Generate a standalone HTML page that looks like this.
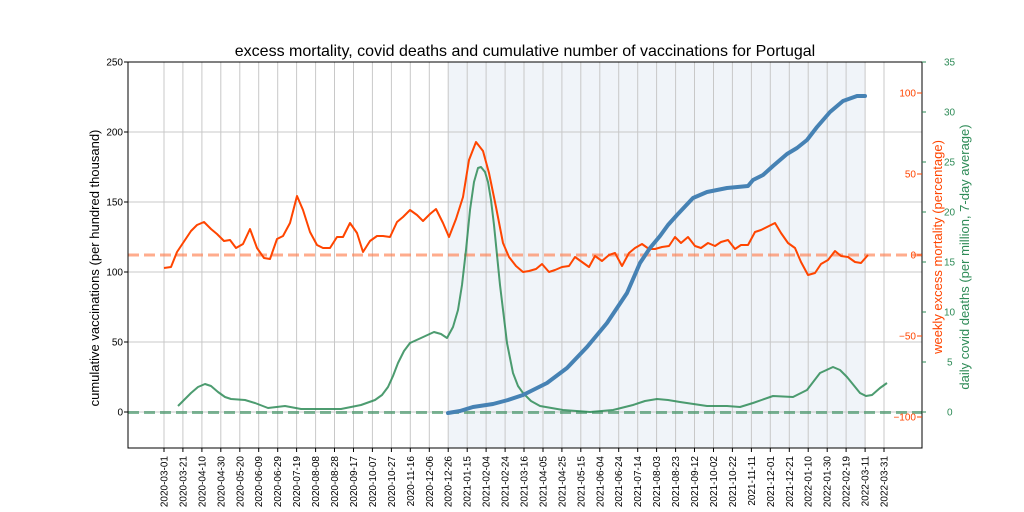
<!DOCTYPE html>
<html><head><meta charset="utf-8"><style>
html,body{margin:0;padding:0;background:#fff;}
svg{display:block;font-family:"Liberation Sans","DejaVu Sans",sans-serif;}
</style></head><body>
<svg width="1024" height="512" viewBox="0 0 1024 512" xmlns="http://www.w3.org/2000/svg">
<rect width="1024" height="512" fill="#fff"/>
<rect x="448.2" y="62" width="416.9" height="386" fill="#f0f4f9"/>
<g stroke="#c8c8c8" stroke-width="1">
<line x1="128" x2="922" y1="132" y2="132"/><line x1="128" x2="922" y1="202" y2="202"/><line x1="128" x2="922" y1="272" y2="272"/><line x1="128" x2="922" y1="342" y2="342"/><line x1="128" x2="922" y1="412" y2="412"/>
<line x1="164" x2="164" y1="62" y2="448"/><line x1="182.9" x2="182.9" y1="62" y2="448"/><line x1="201.9" x2="201.9" y1="62" y2="448"/><line x1="220.8" x2="220.8" y1="62" y2="448"/><line x1="239.8" x2="239.8" y1="62" y2="448"/><line x1="258.7" x2="258.7" y1="62" y2="448"/><line x1="277.7" x2="277.7" y1="62" y2="448"/><line x1="296.6" x2="296.6" y1="62" y2="448"/><line x1="315.6" x2="315.6" y1="62" y2="448"/><line x1="334.5" x2="334.5" y1="62" y2="448"/><line x1="353.5" x2="353.5" y1="62" y2="448"/><line x1="372.4" x2="372.4" y1="62" y2="448"/><line x1="391.4" x2="391.4" y1="62" y2="448"/><line x1="410.3" x2="410.3" y1="62" y2="448"/><line x1="429.3" x2="429.3" y1="62" y2="448"/><line x1="448.2" x2="448.2" y1="62" y2="448"/><line x1="467.2" x2="467.2" y1="62" y2="448"/><line x1="486.1" x2="486.1" y1="62" y2="448"/><line x1="505.1" x2="505.1" y1="62" y2="448"/><line x1="524" x2="524" y1="62" y2="448"/><line x1="543" x2="543" y1="62" y2="448"/><line x1="561.9" x2="561.9" y1="62" y2="448"/><line x1="580.8" x2="580.8" y1="62" y2="448"/><line x1="599.8" x2="599.8" y1="62" y2="448"/><line x1="618.7" x2="618.7" y1="62" y2="448"/><line x1="637.7" x2="637.7" y1="62" y2="448"/><line x1="656.6" x2="656.6" y1="62" y2="448"/><line x1="675.6" x2="675.6" y1="62" y2="448"/><line x1="694.5" x2="694.5" y1="62" y2="448"/><line x1="713.5" x2="713.5" y1="62" y2="448"/><line x1="732.4" x2="732.4" y1="62" y2="448"/><line x1="751.4" x2="751.4" y1="62" y2="448"/><line x1="770.3" x2="770.3" y1="62" y2="448"/><line x1="789.3" x2="789.3" y1="62" y2="448"/><line x1="808.2" x2="808.2" y1="62" y2="448"/><line x1="827.2" x2="827.2" y1="62" y2="448"/><line x1="846.1" x2="846.1" y1="62" y2="448"/><line x1="865.1" x2="865.1" y1="62" y2="448"/><line x1="884" x2="884" y1="62" y2="448"/>
</g>
<line x1="128" x2="922" y1="255" y2="255" stroke="#ff7f50" stroke-opacity="0.65" stroke-width="3" stroke-dasharray="11,5"/>
<line x1="128" x2="922" y1="412.5" y2="412.5" stroke="#2e8b57" stroke-opacity="0.6" stroke-width="3" stroke-dasharray="11,5"/>
<polyline fill="none" stroke="#ff4500" stroke-width="2" stroke-linejoin="round" points="164,268 171,267 177,252 191,231 197,225 204,222 211,229 217,234 224,241 230,240 236,248 243,244 250,229 257,248 264,258 270,259 277,239 283,236 290,223 297,196 303,210 310,232 317,245 323,248 330,248 337,237 343,237 350,223 357,233 363,252 370,241 377,236 383,236 390,237 397,222 403,217 410,210 417,215 423,221 430,214 436,209 443,223 449,237 456,219 463,197 469,160 476,142 483,151 489,173 496,207 503,243 509,257 516,266 523,272 529,271 536,269 542,264 549,272 555,270 562,267 569,266 575,257 582,262 589,267 595,256 602,261 609,255 615,253 622,266 629,253 635,248 642,244 649,249 655,249 662,247 669,246 675,237 681,243 688,237 695,246 701,248 708,243 715,246 721,242 728,240 735,249 741,245 748,245 755,232 761,230 775,223 781,233 788,243 795,248 801,262 808,275 815,273 821,264 828,260 835,251 841,256 848,257 855,262 861,263 868,255"/>
<polyline fill="none" stroke="#2e8b57" stroke-opacity="0.85" stroke-width="2" stroke-linejoin="round" points="178,406 184,400 191,393 198,387 205,384 211,386 218,392 225,397 231,399 245,400 255,403 268,408 285,406 301,409 318,409 341,409 361,405 375,400 382,395 388,387 393,376 398,363 404,351 410,343 421,338 434,332 441,334 447,338 453,327 458,310 462,285 466,250 470,210 474,182 478,168 481,167 485,172 488,182 491,200 494,225 497,255 500,285 504,318 507,343 513,373 518,386 523,393 531,401 540,406 563,410 590,412 613,410 633,405 645,401 657,399 668,400 680,402 707,406 727,406 740,407 753,403 773,396 793,397 807,390 820,373 833,367 840,370 847,377 860,393 866,396 872,395 880,388 887,383"/>
<polyline fill="none" stroke="#4682b4" stroke-width="4" stroke-linejoin="round" stroke-linecap="round" points="448,413 460,411 473,407 493,404 508,400 523,395 547,383 567,368 587,347 607,323 627,293 640,263 650,248 660,236 668,225 677,215 693,198 707,192 727,188 748,186 753,180 763,175 773,166 787,154 797,148 807,140 817,127 830,112 843,101 857,96 865,96"/>
<rect x="128" y="62" width="794" height="386" fill="none" stroke="#000" stroke-width="1"/>
<g font-size="10" fill="#000" text-anchor="end">
<text x="123" y="65.5">250</text><text x="123" y="135.5">200</text><text x="123" y="205.5">150</text><text x="123" y="275.5">100</text><text x="123" y="345.5">50</text><text x="123" y="415.5">0</text>
</g>
<g stroke="#000"><line x1="124" x2="128" y1="62" y2="62"/><line x1="124" x2="128" y1="132" y2="132"/><line x1="124" x2="128" y1="202" y2="202"/><line x1="124" x2="128" y1="272" y2="272"/><line x1="124" x2="128" y1="342" y2="342"/><line x1="124" x2="128" y1="412" y2="412"/></g>
<g stroke="#ff4500"><line x1="917" x2="922" y1="93" y2="93"/><line x1="917" x2="922" y1="174" y2="174"/><line x1="917" x2="922" y1="255" y2="255"/><line x1="917" x2="922" y1="336" y2="336"/><line x1="917" x2="922" y1="417" y2="417"/></g>
<g font-size="10" fill="#ff4500" text-anchor="end">
<text x="916" y="96.5">100</text><text x="916" y="177.5">50</text><text x="916" y="258.5">0</text><text x="916" y="339.5">−50</text><text x="916" y="420.5">−100</text>
</g>
<g stroke="#2e8b57"><line x1="922" x2="926" y1="62" y2="62"/><line x1="922" x2="926" y1="112" y2="112"/><line x1="922" x2="926" y1="162" y2="162"/><line x1="922" x2="926" y1="212" y2="212"/><line x1="922" x2="926" y1="262" y2="262"/><line x1="922" x2="926" y1="312" y2="312"/><line x1="922" x2="926" y1="362" y2="362"/><line x1="922" x2="926" y1="412" y2="412"/></g>
<g font-size="10" fill="#2e8b57">
<text x="944" y="65.5">35</text><text x="944" y="115.5">30</text><text x="944" y="165.5">25</text><text x="944" y="215.5">20</text><text x="944" y="265.5">15</text><text x="944" y="315.5">10</text><text x="947" y="365.5">5</text><text x="947" y="415.5">0</text>
</g>
<text x="525" y="56" font-size="16" text-anchor="middle" fill="#000">excess mortality, covid deaths and cumulative number of vaccinations for Portugal</text>
<text transform="translate(99,268) rotate(-90)" font-size="13" text-anchor="middle" fill="#000">cumulative vaccinations (per hundred thousand)</text>
<text transform="translate(942,247) rotate(-90)" font-size="13" text-anchor="middle" fill="#ff4500">weekly excess mortality (percentage)</text>
<text transform="translate(969,257) rotate(-90)" font-size="13" text-anchor="middle" fill="#2e8b57">daily covid deaths (per million, 7-day average)</text>
<g stroke="#000">
<line x1="164" x2="164" y1="448" y2="452"/><line x1="182.9" x2="182.9" y1="448" y2="452"/><line x1="201.9" x2="201.9" y1="448" y2="452"/><line x1="220.8" x2="220.8" y1="448" y2="452"/><line x1="239.8" x2="239.8" y1="448" y2="452"/><line x1="258.7" x2="258.7" y1="448" y2="452"/><line x1="277.7" x2="277.7" y1="448" y2="452"/><line x1="296.6" x2="296.6" y1="448" y2="452"/><line x1="315.6" x2="315.6" y1="448" y2="452"/><line x1="334.5" x2="334.5" y1="448" y2="452"/><line x1="353.5" x2="353.5" y1="448" y2="452"/><line x1="372.4" x2="372.4" y1="448" y2="452"/><line x1="391.4" x2="391.4" y1="448" y2="452"/><line x1="410.3" x2="410.3" y1="448" y2="452"/><line x1="429.3" x2="429.3" y1="448" y2="452"/><line x1="448.2" x2="448.2" y1="448" y2="452"/><line x1="467.2" x2="467.2" y1="448" y2="452"/><line x1="486.1" x2="486.1" y1="448" y2="452"/><line x1="505.1" x2="505.1" y1="448" y2="452"/><line x1="524" x2="524" y1="448" y2="452"/><line x1="543" x2="543" y1="448" y2="452"/><line x1="561.9" x2="561.9" y1="448" y2="452"/><line x1="580.8" x2="580.8" y1="448" y2="452"/><line x1="599.8" x2="599.8" y1="448" y2="452"/><line x1="618.7" x2="618.7" y1="448" y2="452"/><line x1="637.7" x2="637.7" y1="448" y2="452"/><line x1="656.6" x2="656.6" y1="448" y2="452"/><line x1="675.6" x2="675.6" y1="448" y2="452"/><line x1="694.5" x2="694.5" y1="448" y2="452"/><line x1="713.5" x2="713.5" y1="448" y2="452"/><line x1="732.4" x2="732.4" y1="448" y2="452"/><line x1="751.4" x2="751.4" y1="448" y2="452"/><line x1="770.3" x2="770.3" y1="448" y2="452"/><line x1="789.3" x2="789.3" y1="448" y2="452"/><line x1="808.2" x2="808.2" y1="448" y2="452"/><line x1="827.2" x2="827.2" y1="448" y2="452"/><line x1="846.1" x2="846.1" y1="448" y2="452"/><line x1="865.1" x2="865.1" y1="448" y2="452"/><line x1="884" x2="884" y1="448" y2="452"/>
</g>
<g font-size="10" fill="#000" text-anchor="end">
<text transform="translate(167.5,456) rotate(-90)">2020-03-01</text>
<text transform="translate(186.4,456) rotate(-90)">2020-03-21</text>
<text transform="translate(205.4,456) rotate(-90)">2020-04-10</text>
<text transform="translate(224.3,456) rotate(-90)">2020-04-30</text>
<text transform="translate(243.3,456) rotate(-90)">2020-05-20</text>
<text transform="translate(262.2,456) rotate(-90)">2020-06-09</text>
<text transform="translate(281.2,456) rotate(-90)">2020-06-29</text>
<text transform="translate(300.1,456) rotate(-90)">2020-07-19</text>
<text transform="translate(319.1,456) rotate(-90)">2020-08-08</text>
<text transform="translate(338,456) rotate(-90)">2020-08-28</text>
<text transform="translate(357,456) rotate(-90)">2020-09-17</text>
<text transform="translate(375.9,456) rotate(-90)">2020-10-07</text>
<text transform="translate(394.9,456) rotate(-90)">2020-10-27</text>
<text transform="translate(413.8,456) rotate(-90)">2020-11-16</text>
<text transform="translate(432.8,456) rotate(-90)">2020-12-06</text>
<text transform="translate(451.7,456) rotate(-90)">2020-12-26</text>
<text transform="translate(470.7,456) rotate(-90)">2021-01-15</text>
<text transform="translate(489.6,456) rotate(-90)">2021-02-04</text>
<text transform="translate(508.6,456) rotate(-90)">2021-02-24</text>
<text transform="translate(527.5,456) rotate(-90)">2021-03-16</text>
<text transform="translate(546.5,456) rotate(-90)">2021-04-05</text>
<text transform="translate(565.4,456) rotate(-90)">2021-04-25</text>
<text transform="translate(584.3,456) rotate(-90)">2021-05-15</text>
<text transform="translate(603.3,456) rotate(-90)">2021-06-04</text>
<text transform="translate(622.2,456) rotate(-90)">2021-06-24</text>
<text transform="translate(641.2,456) rotate(-90)">2021-07-14</text>
<text transform="translate(660.1,456) rotate(-90)">2021-08-03</text>
<text transform="translate(679.1,456) rotate(-90)">2021-08-23</text>
<text transform="translate(698,456) rotate(-90)">2021-09-12</text>
<text transform="translate(717,456) rotate(-90)">2021-10-02</text>
<text transform="translate(735.9,456) rotate(-90)">2021-10-22</text>
<text transform="translate(754.9,456) rotate(-90)">2021-11-11</text>
<text transform="translate(773.8,456) rotate(-90)">2021-12-01</text>
<text transform="translate(792.8,456) rotate(-90)">2021-12-21</text>
<text transform="translate(811.7,456) rotate(-90)">2022-01-10</text>
<text transform="translate(830.7,456) rotate(-90)">2022-01-30</text>
<text transform="translate(849.6,456) rotate(-90)">2022-02-19</text>
<text transform="translate(868.6,456) rotate(-90)">2022-03-11</text>
<text transform="translate(887.5,456) rotate(-90)">2022-03-31</text>
</g>
</svg>
</body></html>
